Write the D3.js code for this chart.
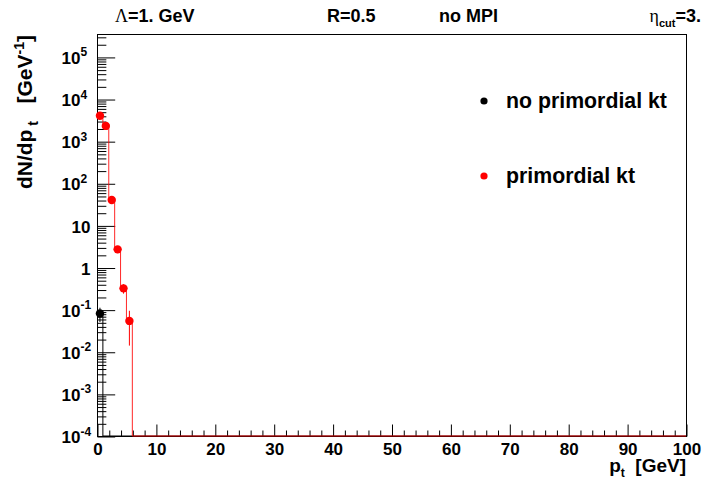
<!DOCTYPE html>
<html>
<head>
<meta charset="utf-8">
<script src="https://cdn.jsdelivr.net/npm/d3@7"></script>
<style>
  body { margin: 0; background: #fff; }
  svg { display: block; }
  text { font-family: "Liberation Sans", Arial, Helvetica, sans-serif; font-weight: bold; fill: #000; white-space: pre; }
  .greek { font-family: "Liberation Serif", "Times New Roman", serif; font-weight: normal; }
</style>
</head>
<body>
<svg id="chart" width="703" height="482"></svg>
<script>
// Jet p_t spectrum, 1 GeV bins starting at 0
const binLowEdges = [0, 1, 2, 3, 4, 5];
const binWidth = 1;
const primordialKt = [4000, 2300, 40, 2.7, 0.32, 0.054];
const primordialKtErr = [65, 48, 6.5, 0.5, 0.08, 0.04];
const noPrimordialKt = [0.081];
const noPrimordialKtErr = [0.03];

const seriesNames = ["no primordial kt", "primordial kt"];
const seriesColors = ["#000000", "#ff0000"];

const xTickValues = [0, 10, 20, 30, 40, 50, 60, 70, 80, 90, 100];
const yDecadeExponents = [-4, -3, -2, -1, 0, 1, 2, 3, 4, 5];

const frame = { left: 97, right: 686, top: 34, bottom: 436 };

const svg = d3.select("#chart");

const x = d3.scaleLinear().domain([0, 100]).range([frame.left, frame.right]);
const y = d3.scaleLog().domain([1e-4, 3.5e5]).range([frame.bottom, frame.top]);
const yFloor = frame.bottom;
const yPos = v => (v <= y.domain()[0] ? yFloor : y(v));

// frame box
svg.append("rect")
  .attr("x", frame.left + 0.5).attr("y", frame.top + 0.5)
  .attr("width", frame.right - frame.left).attr("height", frame.bottom - frame.top)
  .attr("fill", "none").attr("stroke", "#000").attr("stroke-width", 1);

// x axis: major ticks every 10, minor every 2, drawn inward
const xMinor = d3.range(0, 101, 2).filter(v => v % 10 !== 0);
svg.append("g")
  .attr("transform", `translate(0.5,${frame.bottom + 0.5})`)
  .call(d3.axisBottom(x).tickValues(xMinor).tickSizeInner(-6).tickSizeOuter(0).tickFormat(""))
  .call(g => g.select(".domain").remove());
svg.append("g")
  .attr("transform", `translate(0.5,${frame.bottom + 0.5})`)
  .call(d3.axisBottom(x).tickValues(xTickValues).tickSizeInner(-12).tickSizeOuter(0).tickPadding(6).tickFormat(d3.format("d")))
  .call(g => g.select(".domain").remove())
  .call(g => g.selectAll("text").attr("font-size", 17).attr("font-family", null));

// y axis: decades major, 2..9 minor, drawn inward
const yMajor = yDecadeExponents.map(e => Math.pow(10, e));
const yMinor = [];
yDecadeExponents.forEach(e => {
  for (let m = 2; m <= 9; m++) {
    const v = m * Math.pow(10, e);
    if (v <= y.domain()[1]) yMinor.push(v);
  }
});
svg.append("g")
  .attr("transform", `translate(${frame.left + 0.5},0.5)`)
  .call(d3.axisLeft(y).tickValues(yMinor).tickSizeInner(-8.85).tickSizeOuter(0).tickFormat(""))
  .call(g => g.select(".domain").remove());
const yAxisG = svg.append("g")
  .attr("transform", `translate(${frame.left + 0.5},0.5)`)
  .call(d3.axisLeft(y).tickValues(yMajor).tickSizeInner(-17.7).tickSizeOuter(0).tickPadding(6)
    .tickFormat(d => String(Math.round(Math.log10(d)))))
  .call(g => g.select(".domain").remove());

// decade labels: 1, 10, and 10^n with superscript
yAxisG.selectAll(".tick").each(function () {
  const t = d3.select(this);
  const txt = t.select("text");
  const e = +txt.text();
  txt.remove();
  if (e === 0 || e === 1) {
    t.append("text").attr("x", -7).attr("dy", "0.36em").attr("text-anchor", "end")
      .attr("font-size", 17).text(e === 0 ? "1" : "10");
  } else {
    t.append("text").attr("x", -17).attr("dy", "0.36em").attr("text-anchor", "end")
      .attr("font-size", 17).text("10");
    t.append("text").attr("x", -17).attr("dy", "-0.12em").attr("text-anchor", "start")
      .attr("font-size", 12).text(String(e));
  }
});

// step histograms; empty bins lie on the frame floor
function stepPath(values) {
  let p = `M${x(binLowEdges[0])},${yPos(values[0])}`;
  values.forEach((v, i) => {
    if (i > 0) p += `V${yPos(v)}`;
    p += `H${x(binLowEdges[i] + binWidth)}`;
  });
  p += `V${yFloor}H${x(100)}`;
  return p;
}

const series = [
  { vals: noPrimordialKt, errs: noPrimordialKtErr, color: seriesColors[0] },
  { vals: primordialKt, errs: primordialKtErr, color: seriesColors[1] }
];

series.forEach(s => {
  svg.append("path")
    .attr("d", stepPath(s.vals))
    .attr("fill", "none").attr("stroke", s.color).attr("stroke-width", 1)
    .attr("opacity", s.color === "#ff0000" ? 0.85 : 1);
});

series.forEach(s => {
  const pts = s.vals.map((v, i) => ({ cx: binLowEdges[i] + binWidth / 2, v, err: s.errs[i] }));
  svg.append("g").selectAll("line").data(pts).join("line")
    .attr("x1", d => x(d.cx)).attr("x2", d => x(d.cx))
    .attr("y1", d => yPos(d.v + d.err)).attr("y2", d => yPos(Math.max(d.v - d.err, 1e-5)))
    .attr("stroke", s.color).attr("stroke-width", 1);
  svg.append("g").selectAll("circle").data(pts).join("circle")
    .attr("cx", d => x(d.cx)).attr("cy", d => y(d.v)).attr("r", 4.2)
    .attr("fill", s.color);
});

// legend
const legendRows = [101, 176];
seriesNames.forEach((name, i) => {
  svg.append("circle").attr("cx", 484).attr("cy", legendRows[i]).attr("r", 3.6).attr("fill", seriesColors[i]);
  svg.append("text").attr("x", 506).attr("y", legendRows[i] + 7).attr("font-size", 21.3).text(name);
});

// header line
const hdr = svg.append("g").attr("font-size", 18);
const h1 = hdr.append("text").attr("x", 115).attr("y", 22);
h1.append("tspan").attr("class", "greek").text("Λ");
h1.append("tspan").text("=1. GeV");
hdr.append("text").attr("x", 327).attr("y", 22).text("R=0.5");
hdr.append("text").attr("x", 439).attr("y", 22).text("no MPI");
const h4 = hdr.append("text").attr("x", 701).attr("y", 22).attr("text-anchor", "end");
h4.append("tspan").attr("class", "greek").text("η");
h4.append("tspan").attr("font-size", 11).attr("dy", 5).text("cut");
h4.append("tspan").attr("dy", -5).text("=3.");

// axis titles
const xt = svg.append("text").attr("x", frame.right).attr("y", 472).attr("text-anchor", "end").attr("font-size", 19);
xt.append("tspan").text("p");
xt.append("tspan").attr("font-size", 12).attr("dy", 5).text("t");
xt.append("tspan").attr("dy", -5).text("  [GeV]");

const yt = svg.append("text")
  .attr("transform", `translate(32,${frame.top + 1}) rotate(-90)`)
  .attr("text-anchor", "end").attr("font-size", 21);
yt.append("tspan").text("dN/dp");
yt.append("tspan").attr("font-size", 14).attr("dy", 6).text(" t");
yt.append("tspan").attr("dy", -6).text("   [GeV");
yt.append("tspan").attr("font-size", 14).attr("dy", -8).text("-1");
yt.append("tspan").attr("dy", 8).text("]");
</script>
</body>
</html>
